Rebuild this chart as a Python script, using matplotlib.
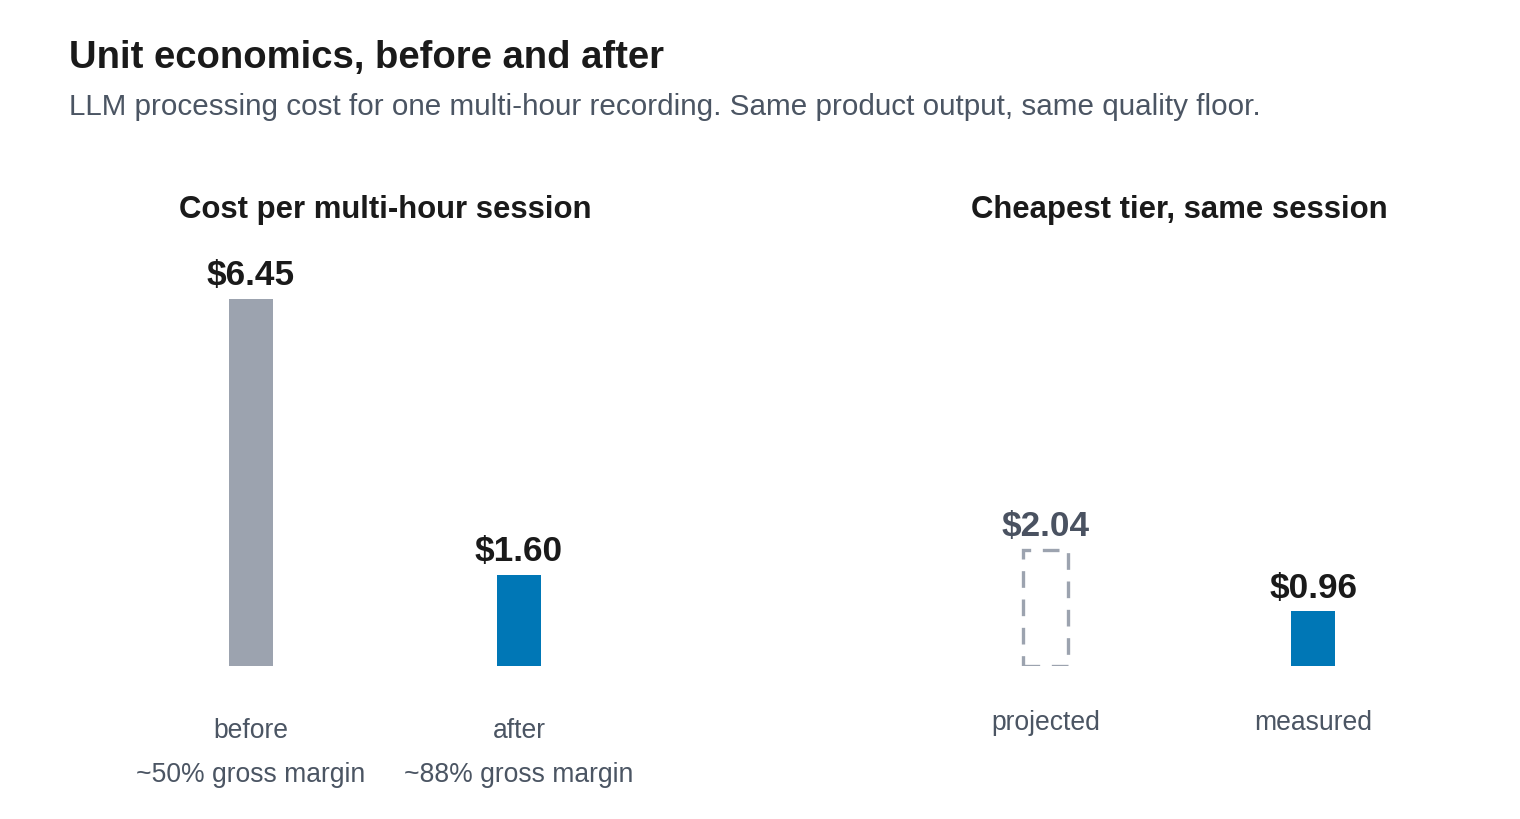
import matplotlib.pyplot as plt

plt.rcParams['font.family'] = ['Liberation Sans', 'DejaVu Sans']

## data
left_cats = ['before', 'after']
left_notes = ['~50% gross margin', '~88% gross margin']
left_vals = [6.45, 1.60]
right_cats = ['projected', 'measured']
right_vals = [2.04, 0.96]

gray = '#9ca3af'
blue = '#0077b6'
dark = '#1a1a1a'
muted = '#4b5563'

W, H = 1520, 819
fig = plt.figure(figsize=(W / 100, H / 100), dpi=100)

fig.text(69 / W, 1 - 58 / H, 'Unit economics, before and after',
         fontsize=27.5, fontweight='bold', color=dark, va='center', ha='left')
fig.text(69 / W, 1 - 107 / H,
         'LLM processing cost for one multi-hour recording. Same product output, same quality floor.',
         fontsize=21.3, color=muted, va='center', ha='left')

ymax = 7.3
px_per_unit = 56.9
bottom = (H - 666) / H
height = ymax * px_per_unit / H


def panel(x0, x1, title):
    ax = fig.add_axes([x0 / W, bottom, (x1 - x0) / W, height])
    ax.set_xlim(-0.5, 1.5)
    ax.set_ylim(0, ymax)
    ax.axis('off')
    fig.text((x0 + x1) / 2 / W, 1 - 210 / H, title, fontsize=22.4,
             fontweight='bold', color=dark, ha='center', va='center')
    return ax


def value_label(ax, x, v, color):
    ax.annotate(f'${v:.2f}', xy=(x, v), xytext=(0, 23 * 0.72),
                textcoords='offset points', ha='center', va='center',
                fontsize=25.3, fontweight='bold', color=color)


bw = 44 / 268

# left panel
ax1 = panel(117, 653, 'Cost per multi-hour session')
ax1.bar([0, 1], left_vals, width=bw, color=[gray, blue])
for i, v in enumerate(left_vals):
    value_label(ax1, i, v, dark)
    ax1.annotate(left_cats[i], xy=(i, 0), xytext=(0, -65 * 0.72),
                 textcoords='offset points', ha='center', va='center',
                 fontsize=19.1, color=muted)
    ax1.annotate(left_notes[i], xy=(i, 0), xytext=(0, -109 * 0.72),
                 textcoords='offset points', ha='center', va='center',
                 fontsize=19.1, color=muted)

# right panel
ax2 = panel(912, 1447, 'Cheapest tier, same session')
ax2.bar([0], right_vals[:1], width=45 / 268, facecolor='none', edgecolor=gray,
        linewidth=2.4, linestyle=(0, (5, 3.5)))
ax2.bar([1], right_vals[1:], width=bw, color=blue)
value_label(ax2, 0, right_vals[0], '#4a5261')
value_label(ax2, 1, right_vals[1], dark)
for i, c in enumerate(right_cats):
    ax2.annotate(c, xy=(i, 0), xytext=(0, -57 * 0.72),
                 textcoords='offset points', ha='center', va='center',
                 fontsize=19.1, color=muted)

fig.savefig('out.png', dpi=100)
